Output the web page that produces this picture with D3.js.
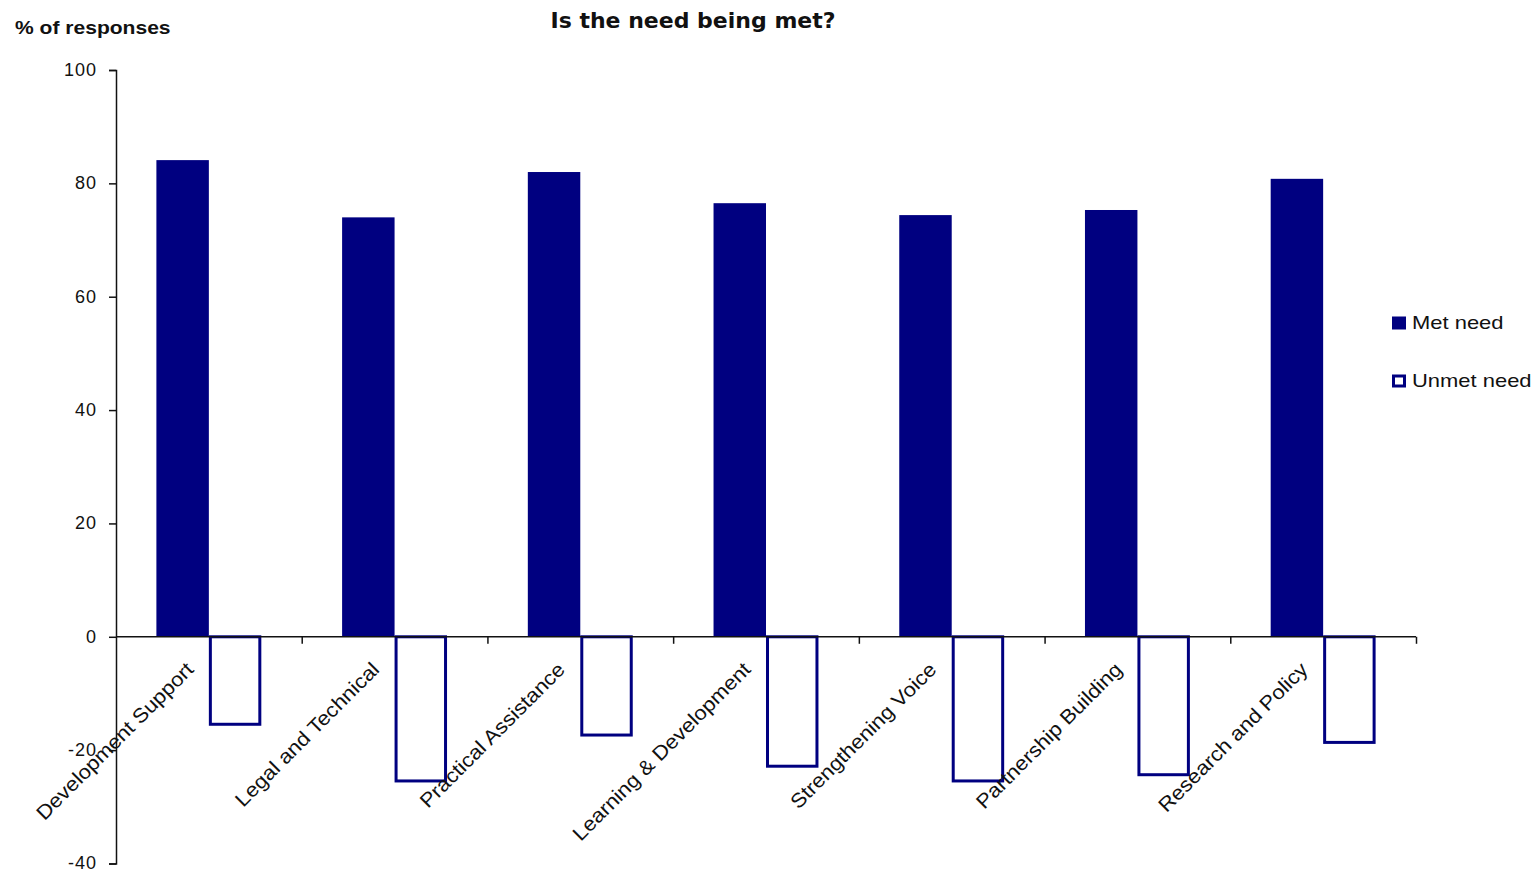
<!DOCTYPE html>
<html>
<head>
<meta charset="utf-8">
<script src="https://cdn.jsdelivr.net/npm/d3@7"></script>
<style>
  html, body { margin: 0; padding: 0; background: #ffffff; }
  svg { display: block; font-family: "Liberation Sans", Arial, sans-serif; }
</style>
</head>
<body>
<svg id="chart" width="1538" height="872"></svg>
<script>
// Service areas and the share of responses saying the need is met / unmet
const categories = [
  "Development Support", "Legal and Technical", "Practical Assistance",
  "Learning & Development", "Strengthening Voice", "Partnership Building",
  "Research and Policy"
];
const metNeed = [84.1, 74.0, 82.0, 76.5, 74.4, 75.3, 80.8];
const unmetNeed = [-15.7, -25.7, -17.6, -23.1, -25.7, -24.6, -18.9];
const seriesNames = ["Met need", "Unmet need"];
const yTicks = [-40, -20, 0, 20, 40, 60, 80, 100];

const navy = "#000080";
const ink = "#111111";
const svg = d3.select("#chart");

const plot = { left: 116, right: 1416, top: 70, bottom: 863.5 };

const y = d3.scaleLinear().domain([-40, 100]).range([plot.bottom, plot.top]);
const x0 = d3.scaleBand().domain(categories).range([plot.left, plot.right])
  .paddingInner(0.435).paddingOuter(0.2175);
const x1 = d3.scaleBand().domain(seriesNames).range([0, x0.bandwidth()]);

// Text drawn with a slight horizontal widening
function wideText(parent, x, yPos, str, size, stretch, opts = {}) {
  return parent.append("text")
    .attr("transform", `translate(${x},${yPos}) scale(${stretch},1)`)
    .attr("font-size", size)
    .attr("font-weight", opts.weight || "normal")
    .attr("font-family", opts.family || null)
    .attr("text-anchor", opts.anchor || "start")
    .attr("dy", opts.dy || null)
    .attr("fill", ink)
    .text(str);
}

// Title and y-axis caption
wideText(svg, 693, 28, "Is the need being met?", 22, 1.0,
  { weight: "bold", anchor: "middle", family: "'DejaVu Sans', Verdana, sans-serif" });
wideText(svg, 15, 34, "% of responses", 18, 1.17, { weight: "bold" });

// Met need bars (filled)
svg.append("g").selectAll("rect").data(categories).join("rect")
  .attr("x", d => x0(d) + x1("Met need"))
  .attr("width", x1.bandwidth())
  .attr("y", (d, i) => y(metNeed[i]))
  .attr("height", (d, i) => y(0) - y(metNeed[i]))
  .attr("fill", navy);

// Unmet need bars (outlined)
svg.append("g").selectAll("rect").data(categories).join("rect")
  .attr("x", d => x0(d) + x1("Unmet need") + 1.5)
  .attr("width", x1.bandwidth() - 3)
  .attr("y", y(0))
  .attr("height", (d, i) => y(unmetNeed[i]) - y(0) - 1.5)
  .attr("fill", "#ffffff")
  .attr("stroke", navy)
  .attr("stroke-width", 3);

// Y axis
const yAxis = d3.axisLeft(y).tickValues(yTicks).tickSize(7).tickPadding(12)
  .tickFormat(d => String(d));
const gy = svg.append("g").attr("transform", `translate(${plot.left},0)`).call(yAxis);
gy.select(".domain").attr("stroke", ink).attr("stroke-width", 1.5);
gy.selectAll(".tick line").attr("stroke", ink).attr("stroke-width", 1.5);
gy.selectAll(".tick text").attr("font-size", 18).attr("fill", ink)
  .attr("dy", "0.3em")
  .attr("letter-spacing", 1)
  .attr("font-family", "'Liberation Sans', Arial, sans-serif");

// X axis along zero, ticks at category boundaries
const boundaries = d3.range(1, categories.length + 1);
const xb = d3.scaleLinear().domain([0, categories.length]).range([plot.left, plot.right]);
const gx = svg.append("g").attr("transform", `translate(0,${y(0)})`)
  .call(d3.axisBottom(xb).tickValues(boundaries).tickSize(7).tickFormat(""));
gx.select(".domain").attr("stroke", ink).attr("stroke-width", 1.5)
  .attr("d", `M${plot.left},0H${plot.right}`);
gx.selectAll(".tick line").attr("stroke", ink).attr("stroke-width", 1.5);

// Rotated category labels
svg.append("g").selectAll("text").data(categories).join("text")
  .attr("transform", d => {
    const cx = x0(d) + x0.bandwidth() / 2 - 19;
    return `translate(${cx},${y(0) + 29}) rotate(-45) scale(1.1,1)`;
  })
  .attr("text-anchor", "end")
  .attr("dy", "0.35em")
  .attr("font-size", 20)
  .attr("fill", ink)
  .text(d => d);

// Legend
const legend = svg.append("g");
const legendRows = [
  { name: seriesNames[0], y: 323, filled: true },
  { name: seriesNames[1], y: 381, filled: false }
];
legendRows.forEach(r => {
  legend.append("rect")
    .attr("x", r.filled ? 1392 : 1393.5).attr("y", r.filled ? r.y - 6.5 : r.y - 5)
    .attr("width", r.filled ? 14 : 11).attr("height", r.filled ? 13 : 10)
    .attr("fill", r.filled ? navy : "#ffffff")
    .attr("stroke", r.filled ? "none" : navy)
    .attr("stroke-width", r.filled ? 0 : 3);
  wideText(legend, 1412, r.y, r.name, 18, 1.22, { dy: "0.35em" });
});
</script>
</body>
</html>
